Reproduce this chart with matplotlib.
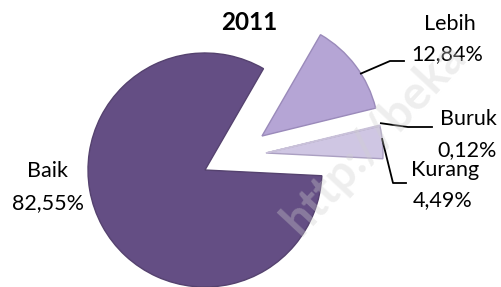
import numpy as np
import matplotlib.pyplot as plt

# data
labels = ['Baik', 'Kurang', 'Buruk', 'Lebih']
values = [82.55, 4.49, 0.12, 12.84]
pct_text = ['82,55%', '4,49%', '0,12%', '12,84%']
colors = ['#644E84', '#CFC6E3', '#EEEAF5', '#B5A5D5']
edges = ['#55426F', '#ABA0C2', '#C9C1D9', '#9A8ABA']
explode = [0, 0.55, 0.55, 0.57]

plt.rcParams['font.family'] = ['Lato', 'DejaVu Sans']

W, H = 502, 287
R = 117.0          # pie radius in pixels
CX, CY = 205, 170  # pie centre in pixels (from top-left)

def px(x, y):
    # pixel position -> data coords
    return (x - CX) / R, (CY - y) / R

fig = plt.figure(figsize=(W / 100, H / 100), dpi=100)
ax = fig.add_axes([0, 0, 1, 1])
wedges, _ = ax.pie(values, colors=colors, explode=explode, startangle=60,
                   counterclock=True, radius=1,
                   wedgeprops=dict(linewidth=1.0))
for w, ec in zip(wedges, edges):
    w.set_edgecolor(ec)

# the exploded slices sit a little higher in the original (3D look)
wedges[1].set_center(px(266, 153))
wedges[2].set_center(px(266, 153))
wedges[3].set_center(px(262, 136))

ax.set_aspect('auto')
ax.set_xlim(-CX / R, (W - CX) / R)
ax.set_ylim(-(H - CY) / R, CY / R)
ax.axis('off')

# leader lines start on the outer arc of each small slice
def arc_point(w, frac=0.5):
    ang = np.deg2rad(w.theta1 + (w.theta2 - w.theta1) * frac)
    cx, cy = w.center
    return cx + w.r * np.cos(ang), cy + w.r * np.sin(ang)

lw = 1.3
# Lebih
x0, y0 = arc_point(wedges[3], 0.4)
xa, ya = px(390, 61)
xb, yb = px(404, 61)
ax.plot([x0, xa, xb], [y0, ya, yb], color='black', lw=lw)
# Buruk
x0, y0 = arc_point(wedges[2], 0.5)
xa, ya = px(408, 127)
xb, yb = px(432, 127)
ax.plot([x0 + 0.01, xa, xb], [y0 + 0.02, ya, yb], color='black', lw=lw)
# Kurang
x0, y0 = arc_point(wedges[1], 0.6)
xa, ya = px(393, 183)
xb, yb = px(406, 183)
ax.plot([x0, xa, xb], [y0, ya, yb], color='black', lw=lw)

fs = 15.5
def lab(x, y, s, **kw):
    fig.text(x / W, 1 - y / H, s, ha='center', va='center', fontsize=fs,
             color='#000000', **kw)

lab(48, 171, labels[0])
lab(48, 203, pct_text[0])
lab(450, 24, labels[3])
lab(447, 54, pct_text[3])
lab(468, 119, labels[2])
lab(467, 150, pct_text[2])
lab(445, 170, labels[1])
lab(443, 200, pct_text[1])

fig.text(249 / W, 1 - 23 / H, '2011', ha='center', va='center',
         fontsize=17.5, fontweight='bold')

# faint watermark
fig.text(290 / W, 1 - 228 / H, 'http://beka', rotation=47, ha='left',
         va='center', fontsize=34, fontweight='bold', color='#cfcfcf',
         alpha=0.35, rotation_mode='anchor')

fig.savefig('out.png', dpi=100)
